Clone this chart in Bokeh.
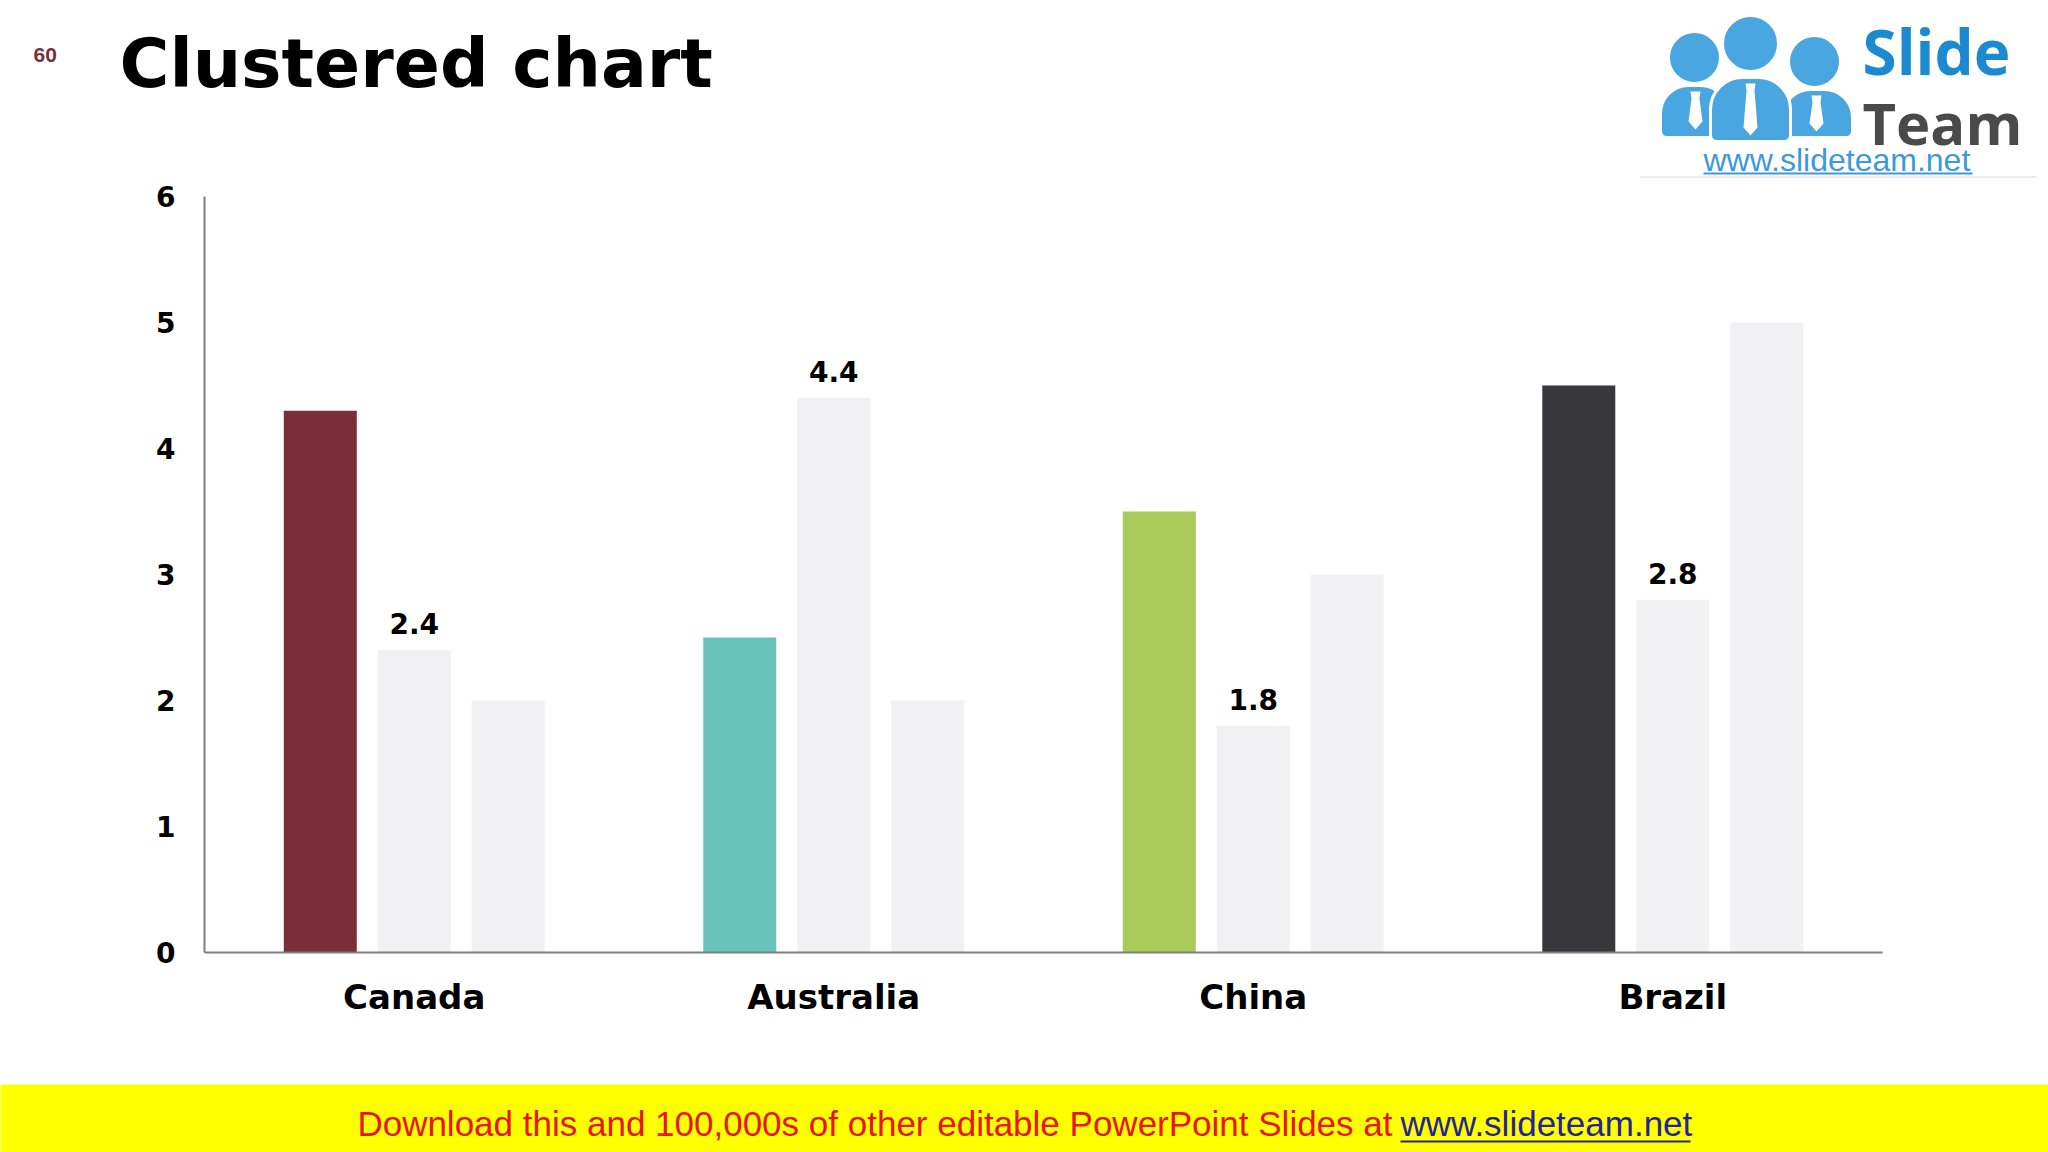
from bokeh.plotting import figure
from bokeh.layouts import column
from bokeh.models import (ColumnDataSource, FactorRange, Range1d, FixedTicker, LabelSet)
from bokeh.core.properties import value
from bokeh.transform import dodge
from bokeh.embed import file_html
from bokeh.resources import INLINE

# ---------------- data ----------------
categories = ["Canada", "Australia", "China", "Brazil"]
series1 = [4.3, 2.5, 3.5, 4.5]
series2 = [2.4, 4.4, 1.8, 2.8]
series3 = [2.0, 2.0, 3.0, 5.0]
series2_labels = ["2.4", "4.4", "1.8", "2.8"]
series1_colors = ["#7A2E3A", "#67C2BC", "#AACB5A", "#38383C"]
y_ticks = [0, 1, 2, 3, 4, 5, 6]

title_text = "Clustered chart"
page_number = "60"
banner_red = "Download this and 100,000s of other editable PowerPoint Slides at"
banner_link = "www.slideteam.net"

# ---------------- page geometry ----------------
W = 2048
TOP_H = 179        # header strip (title + logo)
CHART_H = 905      # chart strip (page y 179 .. 1084)
BANNER_H = 68      # yellow banner (page y 1084 .. 1152)


def plain(fig):
    fig.outline_line_color = None
    fig.xgrid.grid_line_color = None
    fig.ygrid.grid_line_color = None
    return fig


def strip(height):
    return plain(figure(width=W, height=height, x_range=Range1d(0, W), y_range=Range1d(0, height),
                        output_backend="svg", toolbar_location=None, tools="",
                        x_axis_location=None, y_axis_location=None, frame_align=False,
                        min_border=0, min_border_left=0, min_border_right=0,
                        min_border_top=0, min_border_bottom=0))


# ---------------- header: title, page number, logo ----------------
top = strip(TOP_H)
top.background_fill_color = "white"
top.border_fill_color = "white"


def ty(Y):
    return TOP_H - Y


top.text(x=[119], y=[ty(63)], text=[title_text], text_font=value("DejaVu Sans"),
         text_font_style="bold", text_font_size="68px", text_color="black",
         text_baseline="middle", text_align="left")
top.text(x=[33], y=[ty(54)], text=[page_number], text_font=value("Liberation Sans"),
         text_font_style="bold", text_font_size="21px", text_color="#7A2E3A",
         text_baseline="middle", text_align="left")

BLUE = "#4AA6E0"


def tie(cx, y0, h):
    xs = [cx - 5, cx + 5, cx + 4, cx + 7, cx, cx - 7, cx - 4]
    ys = [y0, y0, y0 + 7, y0 + h - 8, y0 + h, y0 + h - 8, y0 + 7]
    return xs, [ty(v) for v in ys]


# side people (behind)
top.circle(x=[1694, 1814], y=[ty(57), ty(61)], radius=26, fill_color=BLUE,
           line_color="white", line_width=3)
top.quad(left=[1660, 1782], right=[1728, 1852], top=[ty(85), ty(89)], bottom=[ty(137)] * 2,
         fill_color=BLUE, line_color="white", line_width=3, border_radius=(28, 28, 6, 6))
lt = tie(1695, 91, 38)
rt = tie(1816, 95, 36)
top.patches(xs=[lt[0], rt[0]], ys=[lt[1], rt[1]], fill_color="white", line_color=None)
# middle person (front)
top.circle(x=[1750], y=[ty(43)], radius=28, fill_color=BLUE, line_color="white", line_width=3)
top.quad(left=[1710], right=[1790], top=[ty(77)], bottom=[ty(141)],
         fill_color=BLUE, line_color="white", line_width=3, border_radius=(32, 32, 6, 6))
mt = tie(1750, 83, 52)
top.patches(xs=[mt[0]], ys=[mt[1]], fill_color="white", line_color=None)

top.text(x=[1862], y=[ty(50)], text=["Slide"], text_font=value("Open Sans"),
         text_font_style="bold", text_font_size="62px", text_color="#1C8AD0",
         text_baseline="middle")
top.text(x=[1862], y=[ty(122)], text=["Team"], text_font=value("Open Sans"),
         text_font_style="bold", text_font_size="58px", text_color="#4A4A4A",
         text_baseline="middle")
top.text(x=[1703], y=[ty(159)], text=[banner_link], text_font=value("Liberation Sans"),
         text_font_size="32px", text_color="#3C9AD8", text_baseline="middle")
top.quad(left=[1703], right=[1972], top=[ty(172)], bottom=[ty(174)],
         fill_color="#3C9AD8", line_color=None)
top.quad(left=[1640], right=[2036], top=[ty(176)], bottom=[ty(177)],
         fill_color="#DADADA", line_color=None)

# ---------------- chart ----------------
FL, FR, FT, FB = 204, 166, 17, 132
source = ColumnDataSource(dict(cat=categories, s1=series1, s2=series2, s3=series3,
                               lab=series2_labels, col=series1_colors))

p = plain(figure(width=W, height=CHART_H, x_range=FactorRange(*categories),
                 y_range=Range1d(0, 6), output_backend="svg", toolbar_location=None, tools="",
                 frame_align=False,
                 min_border_left=FL, min_border_right=FR, min_border_top=FT,
                 min_border_bottom=FB))
p.background_fill_color = "white"
p.border_fill_color = "white"

BW = 0.174
OFF = 0.224
LIGHT = "#F1F1F3"
p.vbar(x=dodge("cat", -OFF, range=p.x_range), top="s1", width=BW, source=source,
       fill_color="col", line_color=None)
p.vbar(x=dodge("cat", 0.0, range=p.x_range), top="s2", width=BW, source=source,
       fill_color=LIGHT, line_color=None)
p.vbar(x=dodge("cat", OFF, range=p.x_range), top="s3", width=BW, source=source,
       fill_color=LIGHT, line_color=None)

labels = LabelSet(x="cat", y="s2", text="lab", source=source, text_align="center",
                  text_baseline="bottom", y_offset=16, text_font=value("DejaVu Sans"),
                  text_font_style="bold", text_font_size="28px", text_color="black")
p.add_layout(labels)

for ax in (p.xaxis[0], p.yaxis[0]):
    ax.axis_line_color = "#7F7F7F"
    ax.axis_line_width = 2
    ax.major_tick_line_color = None
    ax.minor_tick_line_color = None
    ax.major_tick_out = 0
    ax.major_tick_in = 0
    ax.major_label_text_font = "DejaVu Sans"
    ax.major_label_text_font_style = "bold"
    ax.major_label_text_color = "black"
p.yaxis[0].ticker = FixedTicker(ticks=y_ticks)
p.yaxis[0].major_label_text_font_size = "28px"
p.yaxis[0].major_label_standoff = 29
p.xaxis[0].major_label_text_font_size = "34px"
p.xaxis[0].major_label_standoff = 24

# ---------------- banner ----------------
bn = strip(BANNER_H)
bn.background_fill_color = "#FFFF00"
bn.border_fill_color = "#FFFF00"


def by(Y):
    return 1152 - Y


bn.text(x=[1392], y=[by(1123)], text=[banner_red], text_font=value("Liberation Sans"),
        text_font_size="35px", text_align="right", text_color="#E8141A",
        text_baseline="middle")
bn.text(x=[1400], y=[by(1123)], text=[banner_link], text_font=value("Liberation Sans"),
        text_font_size="35px", text_align="left", text_color="#23239E",
        text_baseline="middle")
bn.quad(left=[1400], right=[1690], top=[by(1140)], bottom=[by(1142)],
        fill_color="#23239E", line_color=None)

layout = column(top, p, bn, spacing=0)
open("out.html", "w").write(file_html(layout, INLINE))
